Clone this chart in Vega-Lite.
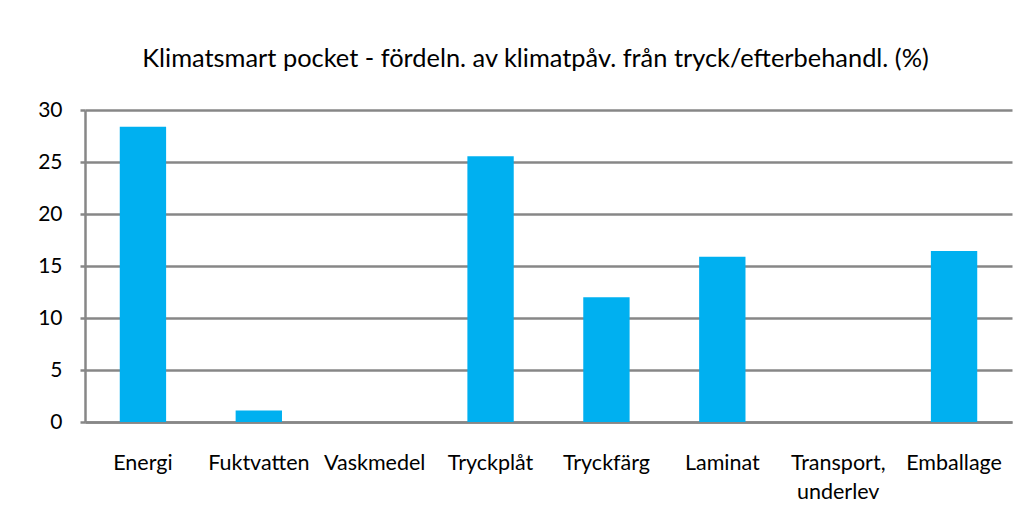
{
  "$schema": "https://vega.github.io/schema/vega-lite/v6.json",
  "width": 927,
  "height": 312,
  "autosize": "none",
  "padding": {"left": 85, "top": 110, "right": 20, "bottom": 107},
  "background": "white",
  "config": {"view": {"stroke": null}},
  "title": {
    "text": "Klimatsmart pocket - fördeln. av klimatpåv. från tryck/efterbehandl. (%)",
    "font": "Lato",
    "fontSize": 25.4,
    "fontWeight": "normal",
    "color": "#000000",
    "anchor": "middle",
    "baseline": "alphabetic",
    "offset": 7,
    "dx": -13
  },
  "data": {
    "values": [
      {"kategori": "Energi", "andel": 28.4},
      {"kategori": "Fuktvatten", "andel": 1.1},
      {"kategori": "Vaskmedel", "andel": 0},
      {"kategori": "Tryckplåt", "andel": 25.55},
      {"kategori": "Tryckfärg", "andel": 12.0},
      {"kategori": "Laminat", "andel": 15.9},
      {"kategori": "Transport, underlev", "andel": 0},
      {"kategori": "Emballage", "andel": 16.45}
    ]
  },
  "mark": {"type": "bar", "color": "#00B0F0"},
  "encoding": {
    "x": {
      "field": "kategori",
      "type": "nominal",
      "sort": null,
      "title": null,
      "scale": {"paddingInner": 0.6, "paddingOuter": 0.3},
      "axis": {
        "labelAngle": 0,
        "labelFont": "Lato",
        "labelFontSize": 21.5,
        "labelColor": "#000000",
        "labelBaseline": "alphabetic",
        "labelPadding": 47,
        "labelLineHeight": 29,
        "labelExpr": "datum.value == 'Transport, underlev' ? ['Transport,', 'underlev'] : datum.value",
        "ticks": false,
        "domainColor": "#878787",
        "domainWidth": 2.5
      }
    },
    "y": {
      "field": "andel",
      "type": "quantitative",
      "title": null,
      "scale": {"domain": [0, 30]},
      "axis": {
        "values": [0, 5, 10, 15, 20, 25, 30],
        "labelFont": "Lato",
        "labelFontSize": 21,
        "labelColor": "#000000",
        "labelPadding": 18,
        "tickSize": 5,
        "tickColor": "#878787",
        "tickWidth": 2.5,
        "domainColor": "#878787",
        "domainWidth": 2.5,
        "gridColor": "#878787",
        "gridWidth": 2.5
      }
    }
  }
}
